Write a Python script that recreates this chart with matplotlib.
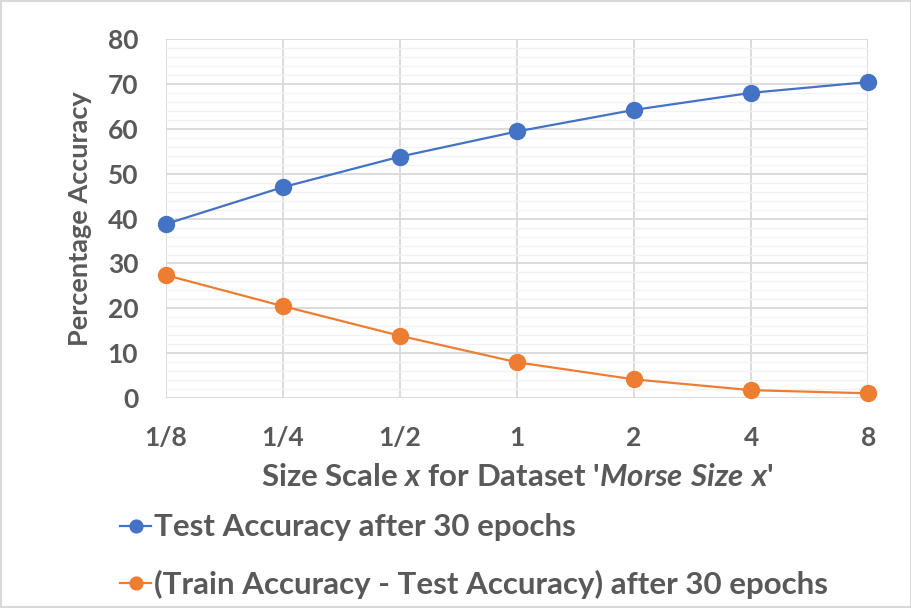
import matplotlib
matplotlib.use("Agg")
import matplotlib.pyplot as plt
from matplotlib.patches import Rectangle
from matplotlib.ticker import MultipleLocator

plt.rcParams['font.family'] = ['Lato', 'DejaVu Sans']
plt.rcParams['mathtext.fontset'] = 'custom'
plt.rcParams['mathtext.rm'] = 'Lato:bold'
plt.rcParams['mathtext.it'] = 'Lato:italic:bold'
plt.rcParams['mathtext.bf'] = 'Lato:bold'

# data
scales = ['1/8', '1/4', '1/2', '1', '2', '4', '8']
test_acc = [38.8, 47.0, 53.8, 59.4, 64.2, 68.0, 70.4]
train_minus_test = [27.4, 20.5, 13.9, 8.0, 4.2, 1.8, 1.1]

grey = '#595959'
blue = '#4472C4'
orange = '#ED7D31'

fig = plt.figure(figsize=(9.12, 6.08), dpi=100)
ax = fig.add_axes([0.182, 0.345, 0.770, 0.591])

x = list(range(len(scales)))
ax.plot(x, test_acc, color=blue, lw=1.6, marker='o', ms=11.5,
        label='Test Accuracy after 30 epochs', zorder=3, clip_on=False)
ax.plot(x, train_minus_test, color=orange, lw=1.6, marker='o', ms=11.5,
        label='(Train Accuracy - Test Accuracy) after 30 epochs', zorder=3, clip_on=False)

ax.set_xlim(0, len(scales) - 1)
ax.set_ylim(0, 80)
ax.set_xticks(x)
ax.set_xticklabels(scales)
ax.yaxis.set_major_locator(MultipleLocator(10))
ax.yaxis.set_minor_locator(MultipleLocator(2))

ax.grid(which='minor', axis='y', color='#F2F2F2', lw=1.0, zorder=0)
ax.grid(which='major', axis='both', color='#D9D9D9', lw=1.3, zorder=1)
for s in ax.spines.values():
    s.set_visible(False)
ax.tick_params(which='both', length=0)
ax.tick_params(axis='y', pad=20, labelsize=19, labelcolor=grey)
ax.tick_params(axis='x', pad=20, labelsize=19, labelcolor=grey)
for lbl in ax.get_xticklabels() + ax.get_yticklabels():
    lbl.set_fontweight('bold')

ax.set_ylabel('Percentage Accuracy', fontsize=19.5, color=grey,
              fontweight='bold', labelpad=11)
ax.set_xlabel(r"Size Scale $\it{x}$ for Dataset '$\it{Morse\ Size\ x}$'",
              fontsize=22.5, color=grey, fontweight='bold', labelpad=9)

leg = fig.legend(loc='upper left', bbox_to_anchor=(0.118, 0.176),
                 frameon=False, handlelength=1.0,
                 handletextpad=0.1, labelspacing=0.9, borderaxespad=0,
                 markerscale=0.8, prop={'family': 'Lato', 'size': 22.5, 'weight': 'bold'})
for t in leg.get_texts():
    t.set_color(grey)

fig.patches.append(Rectangle((0.001, 0.001), 0.998, 0.998, transform=fig.transFigure,
                             fill=False, edgecolor='#D9D9D9', lw=1.5))

fig.savefig('out.png', dpi=100)
